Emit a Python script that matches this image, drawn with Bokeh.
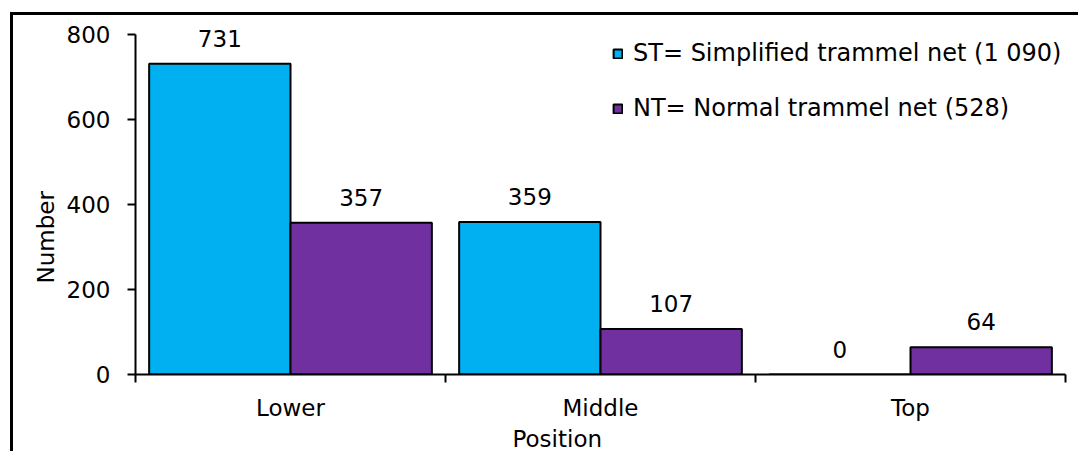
from bokeh.plotting import figure
from bokeh.models import (Range1d, FixedTicker, ColumnDataSource, LabelSet, Title,
                          Legend, LegendItem)
from bokeh.core.properties import value
from bokeh.embed import file_html
from bokeh.resources import INLINE

positions = ["Lower", "Middle", "Top"]
st_values = [731, 359, 0]
nt_values = [357, 107, 64]
st_name = "ST= Simplified trammel net (1 090)"
nt_name = "NT= Normal trammel net (528)"
y_ticks = [0, 200, 400, 600, 800]
x_title = "Position"
y_title = "Number"

FONT = "DejaVu Sans"
FS = "23px"
ST_COLOR = "#00B0F0"
NT_COLOR = "#7030A0"

bar_w = 0.456
half = bar_w / 2
centers = [i + 0.5 for i in range(len(positions))]

src_st = ColumnDataSource(dict(x=[c - half for c in centers], top=st_values,
                               label=[str(v) for v in st_values]))
src_nt = ColumnDataSource(dict(x=[c + half for c in centers], top=nt_values,
                               label=[str(v) for v in nt_values]))

y_top = 840
p = figure(width=1065, height=436, output_backend="svg", toolbar_location=None,
           x_range=Range1d(0, len(positions)), y_range=Range1d(0, y_top),
           min_border_left=122, min_border_right=13, min_border_top=2, min_border_bottom=77)
p.frame_width = 930
p.frame_height = 357
p.margin = (12, 0, 0, 10)
p.styles = {"border-left": "3px solid black", "border-top": "3px solid black"}
p.outline_line_color = None
p.background_fill_color = "white"
p.border_fill_color = "white"
p.xgrid.visible = False
p.ygrid.visible = False

r_st = p.vbar(x="x", top="top", width=bar_w, bottom=0, source=src_st,
              fill_color=ST_COLOR, line_color="black", line_width=2)
r_nt = p.vbar(x="x", top="top", width=bar_w, bottom=0, source=src_nt,
              fill_color=NT_COLOR, line_color="black", line_width=2)

for src in (src_st, src_nt):
    p.add_layout(LabelSet(x="x", y="top", text="label", source=src, y_offset=17,
                          text_align="center", text_baseline="alphabetic",
                          text_font=value(FONT), text_font_size=value(FS),
                          text_color="black"))

# y axis
ya = p.yaxis[0]
ya.bounds = (0, 800)
ya.ticker = FixedTicker(ticks=y_ticks)
ya.axis_line_width = 2
ya.axis_line_color = "black"
ya.major_tick_line_width = 2
ya.major_tick_out = 8
ya.major_tick_in = 0
ya.minor_tick_line_color = None
ya.major_label_standoff = 17
ya.major_label_text_font = FONT
ya.major_label_text_font_size = FS
ya.major_label_text_color = "black"

# x axis
xa = p.xaxis[0]
xa.ticker = FixedTicker(ticks=centers, minor_ticks=list(range(len(positions) + 1)))
xa.major_label_overrides = {c: name for c, name in zip(centers, positions)}
xa.axis_line_width = 2
xa.axis_line_color = "black"
xa.major_tick_line_color = None
xa.major_tick_out = 0
xa.major_tick_in = 0
xa.minor_tick_line_width = 2
xa.minor_tick_line_color = "black"
xa.minor_tick_out = 8
xa.minor_tick_in = 0
xa.major_label_standoff = 12
xa.major_label_text_font = FONT
xa.major_label_text_font_size = FS
xa.major_label_text_color = "black"

# axis titles
p.add_layout(Title(text=y_title, align="left", offset=91, standoff=10,
                   text_font=FONT, text_font_size=FS, text_font_style="normal",
                   text_color="black"), "left")
p.add_layout(Title(text=x_title, align="left", offset=377, standoff=0,
                   text_font=FONT, text_font_size=FS, text_font_style="normal",
                   text_color="black"), "below")

legend = Legend(items=[LegendItem(label=st_name, renderers=[r_st]),
                       LegendItem(label=nt_name, renderers=[r_nt])],
                location=(477, 252), orientation="vertical",
                glyph_width=11, glyph_height=11, label_standoff=10,
                spacing=27, padding=0, margin=0,
                border_line_color=None, background_fill_alpha=0,
                label_text_font=FONT, label_text_font_size="24px",
                label_text_color="black")
p.add_layout(legend)

open("out.html", "w").write(file_html(p, INLINE))
